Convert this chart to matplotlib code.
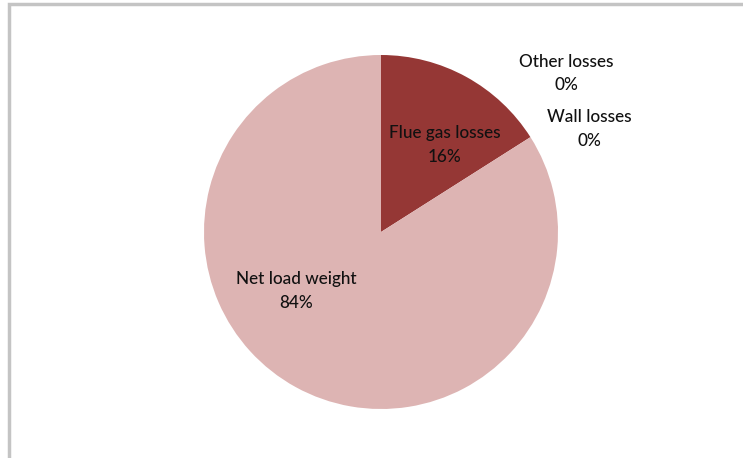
import matplotlib
matplotlib.use('Agg')
from matplotlib import pyplot as plt
from matplotlib.patches import Rectangle

# slices in clockwise order from 12 o'clock
labels = ['Flue gas losses', 'Wall losses', 'Other losses', 'Net load weight']
shares = [16, 0, 0, 84]
colors = ['#953735', '#953735', '#953735', '#DDB4B3']

# where each data label sits (pie data coords, radius 1)
label_pos = [(0.36, 0.49), (1.175, 0.58), (1.045, 0.895), (-0.48, -0.335)]

W, H = 743, 458
fig = plt.figure(figsize=(W / 100, H / 100), dpi=100)
cx, cy, r = 381, 232, 177
ax = fig.add_axes([(cx - r) / W, (H - cy - r) / H, 2 * r / W, 2 * r / H])

ax.pie(shares, colors=colors, startangle=90, counterclock=False,
       wedgeprops={'linewidth': 0})
ax.set_xlim(-1, 1)
ax.set_ylim(-1, 1)
ax.set_aspect('equal')
ax.axis('off')

for name, val, (x, y) in zip(labels, shares, label_pos):
    ax.text(x, y, '%s\n%d%%' % (name, val), ha='center', va='center',
            fontsize=12.3, family=['Lato', 'DejaVu Sans'], weight='medium',
            color='#111111', linespacing=1.6, clip_on=False)

# chart frame, cropped on the right and bottom
fig.add_artist(Rectangle((8.5 / W, -0.1), 1.2, 1.1 - 4.5 / H,
                         transform=fig.transFigure, fill=False,
                         edgecolor='#C4C4C4', linewidth=2.5))

fig.savefig('out.png', dpi=100)
